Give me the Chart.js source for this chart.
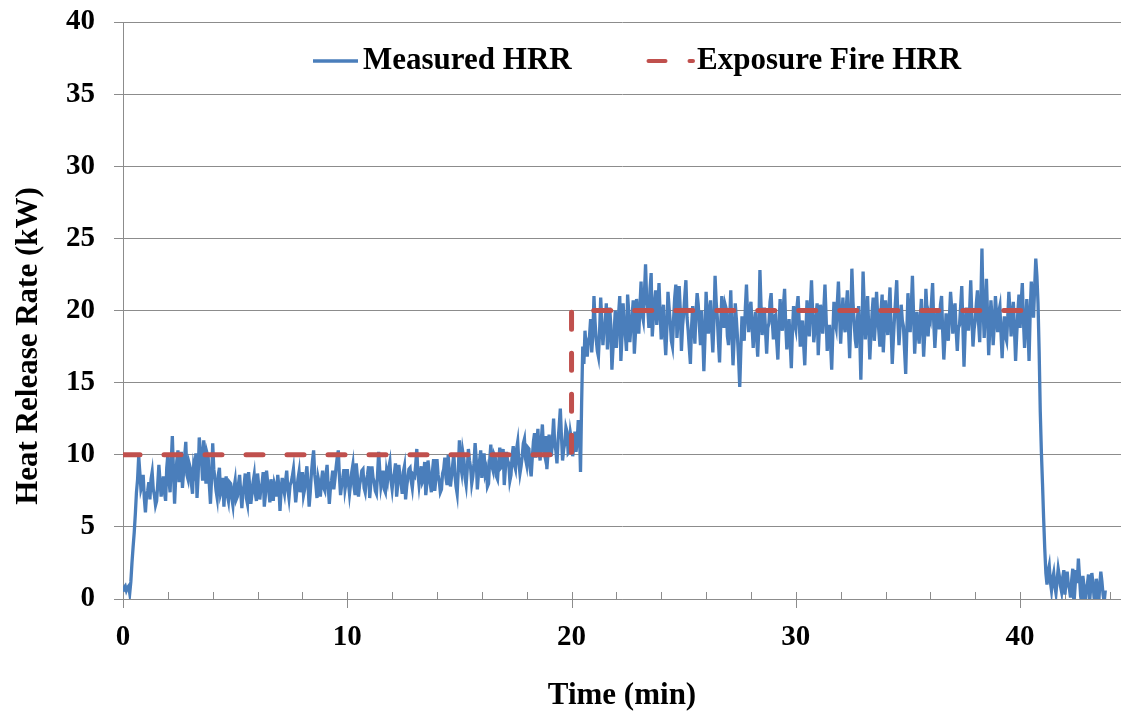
<!DOCTYPE html>
<html>

<head>
  <title>Heat Release Rate</title>
  <style>
    body { margin: 0; background: #fff; }
  </style>
</head>

<body>
  <canvas id="chart" width="1121" height="711"></canvas>
  <script src="https://cdn.jsdelivr.net/npm/chart.js"></script>
  <script>
    // measured HRR, one reading every 3 s (0.05 min) from t = 0, one row per minute
    const sampleStep = 0.05;
    const measuredHrr = [
      0.5, 0.8, 0.9, 0.6, 0.8, 0.9, 0.4, 1.2, 2.5, 3.6, 4.6, 5.9, 7.4, 8.3, 9.9, 8.8, 7.6, 7.9, 8.6, 7.0,
      6.0, 7.2, 7.5, 8.1, 6.9, 8.3, 8.8, 7.6, 7.2, 6.5, 6.8, 8.0, 9.3, 8.2, 7.1, 7.8, 8.5, 7.4, 6.8, 9.1,
      10.0, 8.2, 7.4, 9.5, 11.3, 8.9, 6.6, 8.4, 9.6, 10.3, 8.1, 9.0, 10.2, 7.7, 8.8, 9.9, 10.9, 8.6, 8.3, 9.4,
      9.1, 8.0, 7.3, 9.2, 8.8, 10.1, 7.0, 8.5, 11.2, 10.4, 9.6, 8.2, 11.0, 9.5, 8.0, 10.1, 9.8, 7.9, 6.6, 8.4,
      10.8, 9.0, 8.3, 7.5, 7.0, 8.6, 9.1, 7.3, 7.6, 8.4, 6.4, 7.8, 8.5, 7.2, 6.8, 8.1, 8.0, 7.0, 6.5, 7.7,
      8.2, 6.9, 7.1, 8.0, 8.6, 7.4, 6.3, 7.5, 7.9, 8.7, 7.0, 6.6, 8.8, 7.8, 6.6, 7.3, 8.1, 8.6, 7.3, 6.8,
      8.7, 7.9, 6.9, 7.7, 8.0, 8.8, 6.4, 7.2, 8.9, 8.1, 7.5, 6.7, 8.3, 7.6, 6.8, 8.0, 7.7, 7.1, 8.6, 7.8,
      6.1, 7.5, 8.4, 7.7, 7.3, 8.2, 8.9, 7.6, 7.0, 7.9, 8.1, 8.5, 9.0, 7.8, 6.7, 7.5, 8.3, 8.8, 7.4, 8.0,
      8.8, 7.2, 7.6, 8.5, 9.2, 7.9, 6.4, 7.4, 8.7, 9.6, 10.3, 8.6, 7.9, 7.0, 8.4, 8.0, 7.1, 8.2, 8.9, 7.7,
      7.5, 8.6, 9.3, 7.8, 6.6, 7.7, 8.2, 8.9, 7.6, 8.3, 9.1, 9.8, 10.3, 8.5, 7.2, 7.9, 8.4, 9.0, 7.6, 8.1,
      9.0, 8.1, 7.3, 8.0, 8.8, 9.3, 7.8, 7.2, 9.4, 8.5, 7.1, 7.9, 8.3, 8.9, 9.0, 7.7, 7.4, 8.2, 8.6, 9.2,
      7.0, 8.0, 9.2, 8.4, 8.1, 7.5, 7.3, 8.6, 10.2, 8.9, 7.8, 8.3, 8.9, 7.6, 7.4, 8.8, 8.3, 9.1, 9.5, 8.2,
      7.6, 8.4, 8.7, 9.4, 7.1, 7.9, 9.3, 8.5, 8.0, 7.3, 8.8, 9.2, 6.9, 7.8, 8.4, 9.0, 9.1, 8.2, 7.7, 8.6,
      8.5, 9.3, 10.4, 8.7, 7.9, 8.6, 9.2, 8.1, 8.3, 9.5, 7.2, 8.0, 9.6, 8.8, 8.0, 7.4, 8.9, 9.7, 7.5, 8.3,
      9.7, 8.6, 8.2, 7.4, 7.6, 8.7, 9.0, 9.8, 8.4, 7.9, 10.0, 8.8, 7.8, 8.5, 9.3, 10.1, 8.6, 7.8, 7.3, 8.9,
      11.0, 9.3, 8.8, 10.2, 9.7, 8.4, 7.9, 9.0, 10.4, 9.6, 9.1, 8.0, 8.5, 9.4, 10.8, 9.7, 7.6, 8.7, 9.6, 10.3,
      8.4, 9.5, 10.1, 8.7, 9.0, 7.8, 8.0, 9.6, 10.7, 9.2, 8.9, 10.0, 9.8, 8.5, 8.3, 9.4, 10.5, 9.1, 9.2, 10.4,
      7.9, 9.0, 10.2, 9.6, 9.4, 8.2, 8.6, 9.9, 10.6, 9.3, 9.0, 10.4, 10.9, 9.5, 8.7, 9.2, 9.9, 10.8, 11.1, 9.7,
      9.3, 10.5, 10.4, 9.1, 8.5, 9.8, 10.9, 11.5, 9.8, 10.6, 11.8, 10.2, 9.6, 11.0, 12.1, 10.4, 10.0, 11.3, 9.0, 10.1,
      11.4, 10.5, 9.9, 11.1, 12.5, 10.7, 10.3, 9.4, 11.0, 12.0, 13.2, 11.3, 9.6, 10.4, 10.8, 11.9, 11.6, 10.1, 10.2, 11.5,
      11.0, 9.9, 10.5, 11.6, 10.2, 10.9, 12.4, 11.8, 8.8, 13.6, 17.5, 16.3, 18.6, 17.4, 16.8, 17.9, 18.2, 19.4, 17.1, 18.3,
      21.0, 19.2, 18.0, 17.2, 16.8, 18.5, 20.9, 19.3, 17.6, 18.8, 19.1, 20.5, 17.3, 18.6, 20.2, 19.0, 15.9, 17.4, 18.5, 20.0,
      17.4, 18.7, 19.8, 21.0, 16.5, 18.2, 20.5, 19.1, 18.3, 17.2, 21.1, 19.9, 17.8, 18.9, 19.6, 20.7, 17.0, 18.4, 20.8, 19.4,
      18.4, 20.3, 22.0, 19.7, 19.3, 21.2, 23.2, 20.8, 20.1, 18.8, 21.5, 22.6, 18.2, 19.5, 20.6, 21.4, 19.0, 20.2, 21.9, 19.8,
      18.0, 19.6, 20.4, 18.3, 16.9, 18.7, 21.3, 20.2, 19.2, 17.9, 17.5, 19.4, 20.9, 21.8, 18.1, 19.3, 21.7, 20.0, 17.2, 18.9,
      19.8, 21.0, 22.1, 19.5, 18.6, 17.4, 16.3, 18.8, 20.3, 19.1, 17.7, 19.9, 21.2, 20.4, 18.9, 17.6, 20.0, 18.3, 15.8, 18.1,
      21.3, 19.7, 18.4, 20.0, 20.7, 18.6, 17.1, 19.2, 22.4, 20.6, 19.5, 17.8, 16.4, 18.9, 21.0, 19.6, 18.8, 20.4, 20.1, 18.2,
      17.6, 19.3, 21.4, 18.5, 16.2, 18.0, 20.5, 19.4, 18.1, 16.6, 14.7, 17.3, 19.6, 18.4, 17.9, 20.2, 21.8, 19.7, 18.5, 20.1,
      20.6, 18.9, 17.4, 19.0, 19.9, 18.2, 16.8, 18.7, 22.8, 20.3, 18.3, 19.5, 20.2, 18.6, 17.0, 18.8, 19.1, 20.6, 21.2, 19.3,
      18.0, 19.6, 19.7, 17.8, 16.6, 18.9, 20.8, 19.2, 18.6, 20.4, 21.5, 19.0, 17.3, 18.4, 19.4, 17.7, 16.0, 18.6, 20.3, 19.1,
      18.7, 20.2, 21.0, 19.3, 17.5, 18.8, 19.3, 17.6, 16.2, 18.5, 20.7, 19.4, 18.2, 20.3, 22.1, 19.9, 17.8, 18.6, 19.6, 20.5,
      16.9, 18.7, 20.4, 19.5, 18.4, 20.1, 21.8, 19.6, 17.2, 18.3, 19.0, 17.6, 15.9, 18.4, 20.6, 19.2, 18.8, 20.5, 22.0, 19.8,
      17.7, 19.4, 20.9, 19.0, 18.5, 20.2, 21.4, 18.8, 16.7, 19.3, 22.9, 20.6, 19.2, 18.0, 17.4, 19.5, 20.3, 18.2, 15.2, 18.7,
      22.7, 20.4, 18.0, 19.2, 21.0, 18.9, 16.6, 18.3, 19.8, 20.9, 17.9, 19.1, 21.3, 19.7, 18.6, 17.5, 20.0, 21.1, 17.1, 18.8,
      20.7, 19.5, 18.3, 20.1, 21.6, 18.7, 16.3, 18.0, 19.5, 20.8, 22.1, 19.4, 17.6, 18.9, 20.4, 19.3, 18.9, 17.2, 15.6, 18.5,
      21.2, 19.6, 18.5, 20.3, 22.4, 19.8, 17.0, 18.6, 19.9, 18.4, 17.7, 19.5, 20.8, 18.9, 16.8, 18.4, 21.5, 20.0, 18.2, 19.7,
      19.4, 20.6, 21.9, 19.2, 17.4, 18.8, 20.1, 19.3, 18.7, 20.4, 21.0, 18.5, 16.6, 18.1, 19.8, 18.9, 17.9, 19.6, 21.3, 20.2,
      18.4, 19.7, 20.5, 18.6, 17.2, 18.8, 19.0, 20.3, 21.7, 18.9, 16.1, 18.5, 20.2, 19.4, 18.6, 20.0, 22.1, 19.6, 17.5, 18.7,
      19.3, 20.5, 21.4, 19.1, 17.8, 20.6, 24.3, 20.2, 18.1, 20.0, 22.2, 19.7, 16.9, 18.8, 20.7, 19.5, 17.6, 19.0, 21.0, 19.8,
      18.5, 19.9, 20.3, 18.4, 16.7, 18.6, 19.6, 18.2, 17.9, 19.5, 21.3, 20.0, 18.2, 19.4, 20.6, 18.7, 16.5, 18.3, 19.9, 21.1,
      18.8, 20.6, 21.9, 19.3, 17.4, 18.9, 20.8, 19.0, 16.5, 19.8, 22.0, 20.7, 19.5, 21.6, 23.6, 22.4, 20.5, 17.2, 13.0, 10.2,
      8.0, 5.6, 3.5, 1.8, 1.0, 1.9, 2.3, 1.2, 0.6, 1.4, 1.8, 0.9, 0.4, 1.3, 2.1, 1.6, 0.9, 0.5, 1.5, 2.0,
      0.3, 1.2, 1.9, 1.0, 0.7, 0.1, 1.3, 2.1, -0.4, 0.8, 2.0, 1.1, 2.8, 1.5, 0.2, -0.3, 1.6, 0.9, -0.3, 0.6,
      1.0, 1.7, -0.2, 0.8, 1.8, 1.1, 0.1, -0.4, 1.4, 0.7, -0.5, 0.9, 1.9, 1.2, 0.3, -0.2, 0.6
    ];

    // exposure fire: 10 kW for 20 min, then 20 kW
    const exposureTime = [0, 20, 20, 40.2];
    const exposureHrr = [10, 10, 20, 20];

    const xTicks = [0, 10, 20, 30, 40];
    const xMinorStep = 2;
    const yTicks = [0, 5, 10, 15, 20, 25, 30, 35, 40];

    const serif = "'Liberation Serif', 'Times New Roman', serif";
    const labelFont = { family: serif, weight: 'bold', size: 29 };
    const titleFont = { family: serif, weight: 'bold', size: 31, lineHeight: 1 };
    const axisGray = '#8c8c8c';

    const measuredPoints = measuredHrr.map((v, i) => ({ x: +(i * sampleStep).toFixed(2), y: v }));
    const exposurePoints = exposureTime.map((t, i) => ({ x: t, y: exposureHrr[i] }));

    // legend inside the plot, x tick marks, rotated y title
    const decorations = {
      id: 'decorations',
      beforeDatasetsDraw(chart) {
        const { ctx, scales: { x } } = chart;
        const base = chart.chartArea.bottom;
        ctx.save();
        ctx.strokeStyle = axisGray;
        ctx.lineWidth = 1;
        for (let v = 0; v <= x.max; v += xMinorStep) {
          const px = Math.round(x.getPixelForValue(v)) + 0.5;
          const major = xTicks.includes(v);
          ctx.beginPath();
          ctx.moveTo(px, base - 7);
          ctx.lineTo(px, major ? base + 9 : base);
          ctx.stroke();
        }
        ctx.restore();
      },
      afterDraw(chart) {
        const { ctx } = chart;
        ctx.save();
        ctx.fillStyle = '#000';
        ctx.font = `bold ${titleFont.size}px ${serif}`;
        ctx.textAlign = 'center';
        ctx.textBaseline = 'middle';
        ctx.translate(29, 346);
        ctx.rotate(-Math.PI / 2);
        ctx.fillText('Heat Release Rate (kW)', 0, 0);
        ctx.restore();

        const entries = [
          { ds: chart.data.datasets[0], x0: 313, x1: 358, tx: 363 },
          { ds: chart.data.datasets[1], x0: 648.5, x1: 693, tx: 697 }
        ];
        const ly = 61;
        ctx.save();
        entries.forEach(e => {
          ctx.strokeStyle = e.ds.borderColor;
          ctx.lineWidth = Math.min(e.ds.borderWidth, 4);
          ctx.lineCap = e.ds.borderCapStyle || 'butt';
          ctx.setLineDash(e.ds.borderDash || []);
          ctx.beginPath();
          ctx.moveTo(e.x0, ly);
          ctx.lineTo(e.x1, ly);
          ctx.stroke();
          ctx.setLineDash([]);
          ctx.fillStyle = '#000';
          ctx.font = `bold ${titleFont.size}px ${serif}`;
          ctx.textAlign = 'left';
          ctx.textBaseline = 'middle';
          ctx.fillText(e.ds.label, e.tx, ly);
        });
        ctx.restore();
      }
    };

    new Chart(document.getElementById('chart'), {
      type: 'line',
      data: {
        datasets: [
          {
            label: 'Measured HRR',
            data: measuredPoints,
            borderColor: '#4a7ebb',
            borderWidth: 3.3,
            pointRadius: 0,
            tension: 0,
            order: 2
          },
          {
            label: 'Exposure Fire HRR',
            data: exposurePoints,
            borderColor: '#c0504d',
            borderWidth: 5,
            borderDash: [17, 24],
            borderCapStyle: 'round',
            pointRadius: 0,
            tension: 0,
            order: 1
          }
        ]
      },
      options: {
        responsive: false,
        animation: false,
        layout: { padding: { top: 22, right: 0, left: 0, bottom: 0 } },
        plugins: {
          legend: { display: false },
          tooltip: { enabled: false }
        },
        scales: {
          x: {
            type: 'linear',
            min: 0,
            max: 44.5,
            afterBuildTicks: (scale) => { scale.ticks = xTicks.map(v => ({ value: v })); },
            afterFit: (scale) => { scale.height = 112; scale.paddingLeft = 0; scale.paddingRight = 0; },
            grid: { display: false, drawTicks: false },
            border: { display: true, color: axisGray, width: 1 },
            ticks: { font: labelFont, color: '#000', padding: 21, maxRotation: 0 },
            title: { display: true, text: 'Time (min)', font: titleFont, color: '#000', padding: { top: 0, bottom: 0 } }
          },
          y: {
            min: 0,
            max: 40,
            afterBuildTicks: (scale) => { scale.ticks = yTicks.map(v => ({ value: v })); },
            afterFit: (scale) => { scale.width = 123; scale.paddingTop = 0; scale.paddingBottom = 0; },
            grid: { color: axisGray, lineWidth: 1, tickLength: 9, drawTicks: true },
            border: { display: true, color: axisGray, width: 1 },
            ticks: { font: labelFont, color: '#000', padding: 19 }
          }
        }
      },
      plugins: [decorations]
    });
  </script>
</body>

</html>
